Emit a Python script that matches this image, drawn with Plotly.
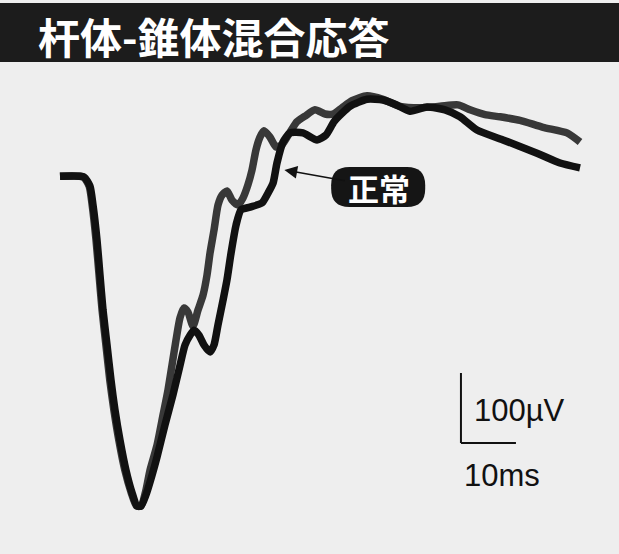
import plotly.graph_objects as go

# Time (ms) and amplitude (µV)
normal_t = [0.0, 4.36, 5.45, 6.0, 6.73, 7.27, 7.82, 8.55, 9.27, 10.0, 10.91, 12.0, 13.09, 14.0, 14.73,
            15.64, 16.73, 17.64, 19.09, 20.55, 21.82, 22.73, 23.64, 24.36, 25.27, 26.18, 27.27, 28.0,
            28.73, 29.64, 30.36, 31.09, 32.0, 32.91, 34.55, 36.73, 37.82, 38.73, 39.45, 40.55, 41.82,
            44.18, 46.73, 48.36, 49.82, 51.27, 52.73, 55.82, 58.73, 60.91, 63.64, 66.73, 70.0, 72.73,
            75.82, 80.55, 86.73, 90.91, 94.55]
normal_v = [1, 0, -13, -40, -90, -140, -190, -240, -290, -333, -376, -419, -451, -470, -470,
            -454, -426, -400, -354, -311, -269, -240, -226, -219, -226, -240, -250, -240,
            -211, -176, -147, -109, -69, -47, -43, -37, -23, -9, 20, 50, 63,
            63, 53, 60, 79, 91, 101, 111, 110, 104, 94, 100, 96, 86,
            67, 53, 34, 20, 13]

patient_t = [0.0, 4.2, 5.3, 5.85, 6.55, 7.1, 7.65, 8.35, 9.05, 9.8, 10.7, 11.8, 12.95, 13.9, 14.73,
             15.64, 16.36, 17.64, 18.73, 19.64, 20.36, 21.09, 21.82, 22.55, 23.27, 24.18, 25.09, 26.0,
             26.73, 27.27, 28.0, 28.73, 29.45, 30.36, 31.27, 32.36, 33.27, 34.18, 34.91, 35.64, 36.36,
             37.09, 38.18, 39.27, 40.36, 41.82, 43.09, 44.55, 46.36, 48.18, 49.64, 51.27, 53.09, 55.82,
             58.73, 61.82, 65.45, 69.09, 72.36, 74.55, 77.27, 80.0, 83.64, 87.82, 92.18, 94.55]
patient_v = [1, 0, -13, -40, -90, -140, -190, -240, -290, -333, -376, -419, -451, -470, -470,
             -447, -419, -383, -340, -304, -269, -233, -201, -187, -193, -213, -190, -169,
             -140, -109, -76, -40, -26, -20, -33, -40, -30, -11, 10, 39, 57,
             66, 57, 43, 46, 64, 79, 87, 96, 90, 90, 99, 109, 116,
             111, 101, 99, 101, 103, 96, 89, 86, 81, 71, 63, 50]

title_text = "杆体-錐体混合応答"
label_text = "正常"
scale_uv_text = "100µV"
scale_ms_text = "10ms"
scale_uv = 100
scale_ms = 10

fig = go.Figure()
fig.add_trace(go.Scatter(x=patient_t, y=patient_v, mode="lines",
                         line=dict(color="#383838", width=7.5, shape="spline", smoothing=0.6),
                         hoverinfo="skip"))
fig.add_trace(go.Scatter(x=normal_t, y=normal_v, mode="lines",
                         line=dict(color="#111111", width=7.5, shape="spline", smoothing=0.6),
                         hoverinfo="skip"))

# scale bar
sx0, sy0 = 72.9, -380
fig.add_shape(type="line", x0=sx0, x1=sx0, y0=sy0, y1=sy0 + scale_uv,
              line=dict(color="#111", width=2))
fig.add_shape(type="line", x0=sx0, x1=sx0 + scale_ms, y0=sy0, y1=sy0,
              line=dict(color="#111", width=2))
fig.add_annotation(x=sx0 + 2.0, y=sy0 + 46, text=scale_uv_text, showarrow=False,
                   xanchor="left", yanchor="middle",
                   font=dict(family="Liberation Sans", size=31, color="#111"))
fig.add_annotation(x=sx0 + 0.2, y=sy0 - 47, text=scale_ms_text, showarrow=False,
                   xanchor="left", yanchor="middle",
                   font=dict(family="Liberation Sans", size=31, color="#111"))

# rounded label box
bx0, bx1, by0, by1 = 49.3, 66.4, -42.9, 14.3
rx, ry = 3.3, 26
path = (f"M {bx0+rx},{by1} L {bx1-rx},{by1} Q {bx1},{by1} {bx1},{by1-ry} "
        f"L {bx1},{by0+ry} Q {bx1},{by0} {bx1-rx},{by0} L {bx0+rx},{by0} "
        f"Q {bx0},{by0} {bx0},{by0+ry} L {bx0},{by1-ry} Q {bx0},{by1} {bx0+rx},{by1} Z")
fig.add_shape(type="path", path=path, fillcolor="#151515", line=dict(width=0), layer="above")
fig.add_annotation(x=40.8, y=10, ax=95, ay=17, text=label_text, showarrow=True,
                   arrowhead=2, arrowsize=1.6, arrowwidth=1.6, arrowcolor="#111",
                   standoff=0, startstandoff=2,
                   font=dict(family="Noto Sans CJK JP", size=31, color="white", weight="bold"))

# title bar
fig.add_shape(type="rect", xref="paper", yref="paper", x0=0, x1=1, y0=1 - 62 / 554, y1=1 - 3 / 554,
              fillcolor="#1c1c1c", line=dict(width=0), layer="above")
fig.add_annotation(xref="paper", yref="paper", x=36 / 619, y=1 - 35 / 554, text=title_text,
                   showarrow=False, xanchor="left", yanchor="middle",
                   font=dict(family="Noto Sans CJK JP", size=42, color="white", weight="bold"))

fig.update_layout(
    width=619, height=554, margin=dict(l=0, r=0, t=0, b=0),
    paper_bgcolor="#eeeeee", plot_bgcolor="#eeeeee", showlegend=False,
    xaxis=dict(range=[-10.909, 101.636], visible=False, fixedrange=True),
    yaxis=dict(range=[-538.57, 252.86], visible=False, fixedrange=True),
)
fig.write_html("out.html", config={"displayModeBar": False},
               post_script="document.body.style.margin='0';document.body.style.overflow='hidden';")
